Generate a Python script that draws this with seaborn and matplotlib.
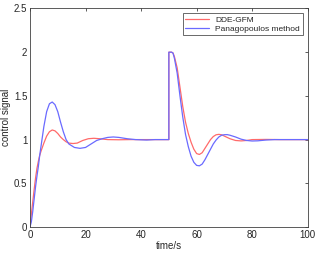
import numpy as np
import pandas as pd
import matplotlib
matplotlib.use("Agg")
import matplotlib.pyplot as plt
import seaborn as sns

# values
t_red = [0, 0.5, 1, 1.5, 2, 2.5, 3, 3.5, 4, 5, 6, 7, 8, 9, 10, 11, 12, 13, 14, 15.5, 17, 19, 21, 23, 25, 28, 32, 36, 40, 45,
         50, 50, 51, 51.5, 52, 53, 54, 55, 56, 57, 58, 59, 60, 61, 62, 63, 64, 65, 66, 67, 68, 69, 70, 72, 74, 76, 78, 80, 85, 90, 95, 100]
v_red = [0, 0.15, 0.29, 0.43, 0.56, 0.67, 0.75, 0.82, 0.87, 0.96, 1.04, 1.09, 1.11, 1.10, 1.07, 1.03, 1.0, 0.975, 0.96, 0.955, 0.96, 0.99, 1.01, 1.015, 1.01, 1.0, 0.998, 1.0, 1.0, 1.0,
         1.0, 2.0, 2.0, 1.99, 1.95, 1.82, 1.6, 1.38, 1.2, 1.07, 0.97, 0.89, 0.84, 0.83, 0.85, 0.9, 0.95, 1.0, 1.035, 1.055, 1.06, 1.055, 1.04, 1.01, 0.99, 0.985, 0.99, 1.0, 1.002, 1.0, 1.0, 1.0]

t_blue = [0, 0.5, 1, 1.5, 2, 2.5, 3, 3.5, 4, 5, 6, 7, 8, 9, 10, 11, 12, 13, 14, 16, 18, 20, 22, 24, 26, 28, 30, 32, 35, 38, 42, 45,
          50, 50, 51, 51.5, 52, 53, 54, 55, 56, 57, 58, 59, 60, 61, 62, 63, 64, 65, 66, 67, 68, 69, 70, 71, 72, 74, 76, 78, 80, 82, 85, 88, 94, 100]
v_blue = [0, 0.06, 0.18, 0.32, 0.46, 0.58, 0.69, 0.82, 0.93, 1.15, 1.32, 1.41, 1.43, 1.40, 1.32, 1.2, 1.09, 1.0, 0.95, 0.91, 0.90, 0.91, 0.95, 0.99, 1.01, 1.025, 1.03, 1.025, 1.01, 1.0, 0.995, 1.0,
          1.0, 2.0, 2.0, 1.99, 1.93, 1.76, 1.5, 1.26, 1.06, 0.92, 0.81, 0.74, 0.705, 0.70, 0.72, 0.77, 0.83, 0.89, 0.95, 0.995, 1.03, 1.05, 1.056, 1.057, 1.05, 1.03, 1.005, 0.99, 0.984, 0.986, 0.995, 1.0, 1.0, 1.0]

sns.set_style("white")
plt.rcParams['font.family'] = ['Liberation Sans', 'DejaVu Sans']

fig = plt.figure(figsize=(3.17, 2.56), dpi=100)
ax = fig.add_axes([0.0946, 0.1133, 0.8761, 0.8535])

sns.lineplot(x=t_red, y=v_red, ax=ax, color='#ff6a6a', lw=0.9, estimator=None, sort=False, label='DDE-GFM')
sns.lineplot(x=t_blue, y=v_blue, ax=ax, color='#6a6aff', lw=0.9, estimator=None, sort=False, label='Panagopoulos method')

ax.set_xlim(0, 100)
ax.set_ylim(0, 2.5)
ax.set_xticks([0, 20, 40, 60, 80, 100])
ax.set_yticks([0, 0.5, 1, 1.5, 2, 2.5])
ax.set_yticklabels(['0', '0.5', '1', '1.5', '2', '2.5'])
ax.tick_params(direction='in', length=2.5, width=0.6, color='#404040', labelsize=7,
               labelcolor='#262626', top=True, right=True, pad=2)
for s in ax.spines.values():
    s.set_color('#404040')
    s.set_linewidth(0.6)
ax.set_xlabel('time/s', fontsize=7, color='#262626', labelpad=1)
ax.set_ylabel('control signal', fontsize=7, color='#262626', labelpad=2)

leg = ax.legend(loc='upper right', fontsize=6, frameon=True, fancybox=False, handlelength=2.8,
                borderpad=0.3, labelspacing=0.15, handletextpad=0.8, borderaxespad=0.6)
leg.get_frame().set_edgecolor('#262626')
leg.get_frame().set_linewidth(0.6)

fig.savefig('out.png', dpi=100)
